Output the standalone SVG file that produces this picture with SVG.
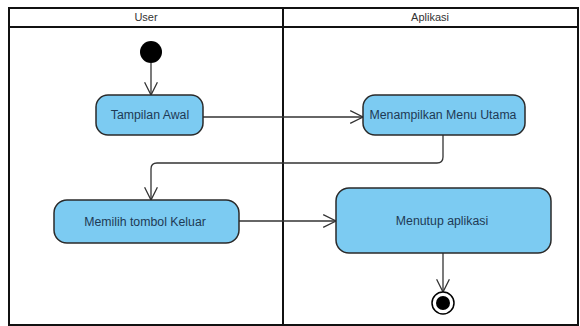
<svg xmlns="http://www.w3.org/2000/svg" width="580" height="326" viewBox="0 0 580 326">
<defs>
<style>
.lane{fill:none;stroke:#111;stroke-width:2}
.hdr{font-family:"Liberation Sans",Arial,sans-serif;font-size:11px;fill:#333;text-anchor:middle}
.box{fill:#7ccbf2;stroke:#2a2a2a;stroke-width:1.5}
.lbl{font-family:"Liberation Sans",Arial,sans-serif;font-size:12.3px;fill:#1e3a55;text-anchor:middle;dominant-baseline:central}
.edge{fill:none;stroke:#333;stroke-width:1.3}
</style>
<marker id="arr" viewBox="0 0 20 20" refX="18" refY="10" markerWidth="16" markerHeight="16" markerUnits="userSpaceOnUse" orient="auto">
<path d="M2,2 L18,10 L2,18" fill="none" stroke="#333" stroke-width="1.6"/>
</marker>
</defs>
<rect width="580" height="326" fill="#fff"/>
<g id="lanes">
<rect class="lane" x="9" y="8" width="569" height="317"/>
<line class="lane" x1="9" y1="27" x2="578" y2="27"/>
<line class="lane" x1="283" y1="8" x2="283" y2="325"/>
<text class="hdr" x="146" y="21">User</text>
<text class="hdr" x="430" y="21">Aplikasi</text>
</g>
<g id="connectors">
<line class="edge" x1="151" y1="63" x2="151" y2="95" marker-end="url(#arr)"/>
<line class="edge" x1="203" y1="117" x2="363" y2="117" marker-end="url(#arr)"/>
<path class="edge" d="M443,135 V157 Q443,163 437,163 H157 Q151,163 151,169 V200" marker-end="url(#arr)"/>
<line class="edge" x1="239" y1="221" x2="336" y2="221" marker-end="url(#arr)"/>
<line class="edge" x1="443" y1="253" x2="443" y2="292" marker-end="url(#arr)"/>
</g>
<g id="start"><circle cx="151" cy="52" r="11" fill="#000"/></g>
<g id="tampilan-awal">
<rect class="box" x="96" y="95" width="107" height="40" rx="12"/>
<text class="lbl" x="150" y="115">Tampilan Awal</text>
</g>
<g id="menampilkan-menu">
<rect class="box" x="363" y="95" width="162" height="40" rx="12"/>
<text class="lbl" x="443" y="115">Menampilkan Menu Utama</text>
</g>
<g id="memilih-keluar">
<rect class="box" x="54" y="200" width="185" height="43" rx="13"/>
<text class="lbl" x="145" y="221.5">Memilih tombol Keluar</text>
</g>
<g id="menutup-aplikasi">
<rect class="box" x="336" y="188" width="215" height="65" rx="13"/>
<text class="lbl" x="442" y="221">Menutup aplikasi</text>
</g>
<g id="end">
<circle cx="443" cy="303" r="11" fill="#fff" stroke="#000" stroke-width="1.5"/>
<circle cx="443" cy="303" r="7" fill="#000"/>
</g>
</svg>
